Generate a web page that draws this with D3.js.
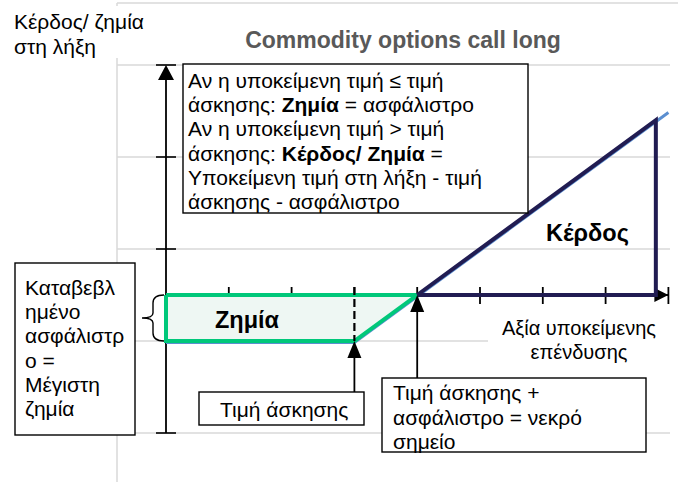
<!DOCTYPE html>
<html lang="el">
<head>
    <meta charset="UTF-8">
    <title>Commodity options call long</title>
    <script src="https://d3js.org/d3.v7.min.js"></script>
    <style>
        body { margin: 0; background: #fff; }
        svg { font-family: "Liberation Sans", Arial, sans-serif; }
        .grid { stroke: #d9d9d9; stroke-width: 1.5; }
        .box { fill: #fff; stroke: #000; stroke-width: 1.4; }
        .txt { font-size: 21px; fill: #000; }
    </style>
</head>
<body>
<svg width="678" height="482"></svg>
<script>
    // x in strike-step units, y in premium units (premium = 1)
    const xTicks = [1, 2, 3, 4, 5, 6, 7, 8];
    const yTicks = [5, 3, 1, -3];
    const gridValues = [5, 3, 1, -1, -3];
    const payoff = [{x: 0, y: -1}, {x: 3, y: -1}, {x: 8, y: 4}];
    const lossArea = [{x: 0, y: 0}, {x: 4, y: 0}, {x: 3, y: -1}, {x: 0, y: -1}, {x: 0, y: 0}];
    const profitArea = [{x: 4, y: 0}, {x: 7.8, y: 3.8}, {x: 7.8, y: 0}, {x: 4, y: 0}];
    const strike = 3, breakEven = 4;

    const svg = d3.select("svg");
    const x = d3.scaleLinear().domain([0, 8]).range([166, 668.4]);
    const y = d3.scaleLinear().domain([-3, 5]).range([433, 65]);
    const line = d3.line().x(d => x(d.x)).y(d => y(d.y));

    // plot frame + gridlines
    svg.append("line").attr("class", "grid").attr("x1", 117).attr("x2", 678).attr("y1", 3).attr("y2", 3);
    svg.append("line").attr("class", "grid").attr("x1", 117).attr("x2", 117).attr("y1", 3).attr("y2", 482);
    svg.selectAll(".hgrid").data(gridValues).enter().append("line")
        .attr("class", "grid")
        .attr("x1", 117).attr("x2", 670)
        .attr("y1", d => y(d)).attr("y2", d => y(d));

    // y label
    svg.append("rect").attr("x", 0).attr("y", 6).attr("width", 160).attr("height", 52).attr("fill", "#fff");
    svg.append("text").attr("class", "txt").attr("x", 14).attr("y", 29).text("Κέρδος/ ζημία");
    svg.append("text").attr("class", "txt").attr("x", 14).attr("y", 54).text("στη λήξη");

    // title
    svg.append("text").attr("x", 403).attr("y", 48)
        .attr("text-anchor", "middle")
        .style("font-size", "23px").style("font-weight", "bold").style("fill", "#595959")
        .text("Commodity options call long");

    // y axis
    svg.append("line").attr("x1", x(0)).attr("x2", x(0)).attr("y1", y(-3)).attr("y2", y(5) + 8)
        .attr("stroke", "#000").attr("stroke-width", 1.8);
    svg.selectAll(".ycap").data(yTicks).enter().append("line")
        .attr("x1", x(0) - 10).attr("x2", x(0) + 10)
        .attr("y1", d => y(d)).attr("y2", d => y(d))
        .attr("stroke", "#000").attr("stroke-width", 1.6);
    svg.append("path")
        .attr("d", `M${x(0)},${y(5)} L${x(0) - 8},${y(5) + 15} L${x(0) + 8},${y(5) + 15} Z`)
        .attr("fill", "#000");

    // x axis
    svg.append("line").attr("x1", x(0)).attr("x2", x(8)).attr("y1", y(0)).attr("y2", y(0))
        .attr("stroke", "#000").attr("stroke-width", 1.8);
    svg.selectAll(".xtick").data(xTicks).enter().append("line")
        .attr("x1", d => x(d)).attr("x2", d => x(d))
        .attr("y1", y(0) - 8).attr("y2", y(0) + 9)
        .attr("stroke", "#000").attr("stroke-width", 1.8);
    svg.append("path")
        .attr("d", `M${x(8)},${y(0)} L${x(8) - 14},${y(0) - 7} L${x(8) - 14},${y(0) + 7} Z`)
        .attr("fill", "#000");

    // loss area
    svg.append("path").datum(lossArea).attr("d", line)
        .attr("fill", "#eef7f3").attr("stroke", "none");

    // payoff line (blue)
    svg.append("path").datum(payoff).attr("d", line)
        .attr("transform", "translate(0,1.5)")
        .attr("fill", "none").attr("stroke", "#5b8fd0").attr("stroke-width", 3);

    svg.append("path").datum(lossArea).attr("d", line)
        .attr("fill", "none").attr("stroke", "#00c87a").attr("stroke-width", 4)
        .attr("stroke-linejoin", "miter");

    // strike dashed line
    svg.append("line").attr("x1", x(strike)).attr("x2", x(strike))
        .attr("y1", y(0) - 8).attr("y2", y(-1))
        .attr("stroke", "#000").attr("stroke-width", 2.2).attr("stroke-dasharray", "8,4");

    // profit triangle
    svg.append("path").datum(profitArea).attr("d", line)
        .attr("fill", "none").attr("stroke", "#211c52").attr("stroke-width", 4)
        .attr("stroke-linejoin", "miter");

    // brace
    const bx = x(0) - 2, by0 = y(0), by1 = y(-1), bm = (by0 + by1) / 2;
    svg.append("path")
        .attr("d", `M${bx},${by0} Q${bx - 11},${by0} ${bx - 11},${by0 + 8} L${bx - 11},${bm - 5} Q${bx - 11},${bm} ${bx - 22},${bm} Q${bx - 11},${bm} ${bx - 11},${bm + 5} L${bx - 11},${by1 - 8} Q${bx - 11},${by1} ${bx},${by1}`)
        .attr("fill", "none").attr("stroke", "#000").attr("stroke-width", 1.4);

    // labels inside chart
    svg.append("text").attr("x", 215).attr("y", 328)
        .style("font-size", "23.5px").style("font-weight", "bold").text("Ζημία");
    svg.append("text").attr("x", 546).attr("y", 241)
        .style("font-size", "23.5px").style("font-weight", "bold").text("Κέρδος");

    // x axis title
    svg.append("rect").attr("x", 488).attr("y", 316).attr("width", 184).attr("height", 46).attr("fill", "#fff");
    svg.append("text").attr("x", 579).attr("y", 335).attr("text-anchor", "middle")
        .style("font-size", "20px").text("Αξία υποκείμενης");
    svg.append("text").attr("x", 579).attr("y", 359).attr("text-anchor", "middle")
        .style("font-size", "20px").text("επένδυσης");

    // annotation arrows
    function arrow(xv, tipY, fromY) {
        svg.append("line").attr("x1", x(xv)).attr("x2", x(xv)).attr("y1", fromY).attr("y2", tipY + 10)
            .attr("stroke", "#000").attr("stroke-width", 1.8);
        svg.append("path")
            .attr("d", `M${x(xv)},${tipY} L${x(xv) - 7},${tipY + 17} L${x(xv) + 7},${tipY + 17} Z`)
            .attr("fill", "#000");
    }
    arrow(strike, y(-1), 392);
    arrow(breakEven, y(0), 378);

    // top explanation box
    svg.append("rect").attr("class", "box").attr("x", 183).attr("y", 64).attr("width", 345).attr("height", 149);
    const topLines = [
        [["Αν η υποκείμενη τιμή ≤ τιμή", false]],
        [["άσκησης: ", false], ["Ζημία", true], [" = ασφάλιστρο", false]],
        [["Αν η υποκείμενη τιμή > τιμή", false]],
        [["άσκησης: ", false], ["Κέρδος/ Ζημία", true], [" =", false]],
        [["Υποκείμενη τιμή στη λήξη - τιμή", false]],
        [["άσκησης - ασφάλιστρο", false]]
    ];
    topLines.forEach((parts, i) => {
        const t = svg.append("text").attr("class", "txt").attr("x", 188).attr("y", 88 + i * 24.2);
        parts.forEach(p => t.append("tspan").style("font-weight", p[1] ? "bold" : "normal").text(p[0]));
    });

    // left box
    svg.append("rect").attr("class", "box").attr("x", 15).attr("y", 263).attr("width", 120).attr("height", 172);
    const leftLines = ["Καταβεβλ", "ημένο", "ασφάλιστρ", "ο =", "Μέγιστη", "ζημία"];
    leftLines.forEach((s, i) => {
        svg.append("text").attr("class", "txt").attr("x", 25).attr("y", 295 + i * 24.2).text(s);
    });

    // strike box
    svg.append("rect").attr("class", "box").attr("x", 199).attr("y", 392).attr("width", 165).attr("height", 33);
    svg.append("text").attr("class", "txt").attr("x", 220).attr("y", 417).text("Τιμή άσκησης");

    // break-even box
    svg.append("rect").attr("class", "box").attr("x", 382).attr("y", 378).attr("width", 264).attr("height", 74);
    const beLines = ["Τιμή άσκησης +", "ασφάλιστρο = νεκρό", "σημείο"];
    beLines.forEach((s, i) => {
        svg.append("text").attr("class", "txt").attr("x", 393).attr("y", 400 + i * 24.5).text(s);
    });
</script>
</body>
</html>
